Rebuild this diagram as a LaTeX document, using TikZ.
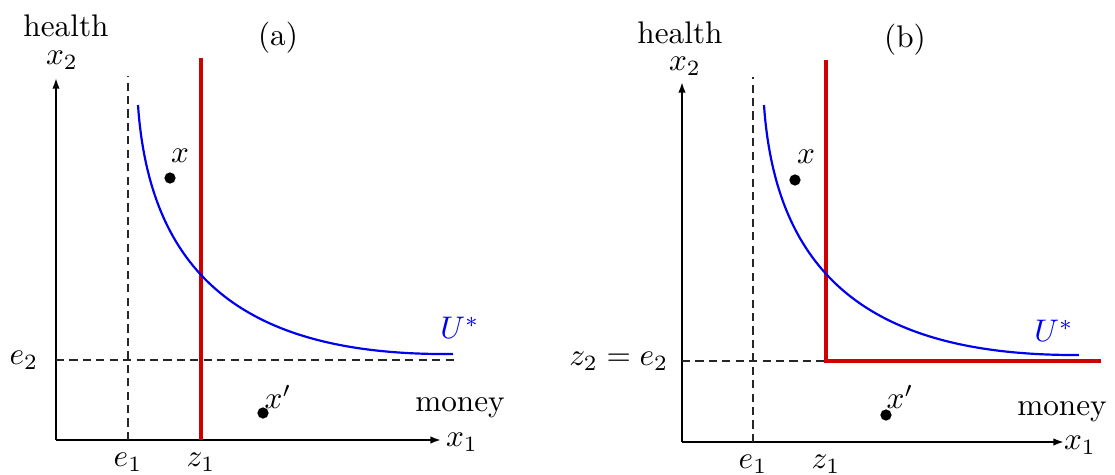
\documentclass[tikz,border=0pt]{standalone}
\usepackage{amsmath}
\usetikzlibrary{arrows.meta,positioning}
\definecolor{budgetred}{HTML}{D10000}
\definecolor{prefblue}{HTML}{0000F0}
\tikzset{
  ax/.style={line width=0.6pt,-{Latex[length=3.4pt,width=2.4pt]}},
  guide/.style={line width=0.5pt, black!85, dash pattern=on 2.6pt off 1.7pt},
  budget/.style={draw=budgetred, line width=1.1pt},
  indiff/.style={draw=prefblue, line width=0.7pt},
  dot/.style={circle, fill=black, inner sep=0pt, minimum size=3.6pt},
  lbl/.style={inner sep=1pt}
}

\begin{document}
\begin{tikzpicture}[x=0.32pt, y=-0.32pt, node distance=2pt]
\useasboundingbox (0,0) rectangle (1115,474);

% panel (a)
\coordinate (Oa) at (56,440);
\coordinate (Ya) at (56,78);
\coordinate (Xa) at (441,440);
\coordinate (e1a) at (128,440);
\coordinate (z1a) at (201,440);
\coordinate (e2a) at (56,360);
\draw[ax] (Oa) -- (Ya);
\draw[ax] (Oa) -- (Xa);
\draw[guide] (e1a) -- (128,76);
\draw[guide] (e2a) -- (454,360);
\draw[budget] (z1a) -- (201,58);
\draw[indiff] (138,105) .. controls (150,280) and (250,356) .. (453,354);
\node[lbl] (x2a) at (62,60) {$x_2$};
\node[lbl] at (66,26) {health};
\node[lbl] at (278,38) {(a)};
\node[lbl, prefblue] at (460,328) {$U^*$};
\node[lbl] at (460,408) {money};
\node[lbl] at (462,442) {$x_1$};
\node[lbl, below=3pt of e1a] {$e_1$};
\node[lbl, below=3pt of z1a] {$z_1$};
\node[lbl, left=4.5pt of e2a] {$e_2$};
\node[dot] (pa) at (170,178) {};
\node[lbl] at (180,156) {$x$};
\node[dot] (qa) at (263,413) {};
\node[lbl] at (278,397) {$x'$};

% panel (b)
\coordinate (Ob) at (682,442);
\coordinate (Yb) at (682,82);
\coordinate (Xb) at (1064,442);
\coordinate (e1b) at (753,442);
\coordinate (z1b) at (826,442);
\coordinate (kink) at (826,361);
\draw[ax] (Ob) -- (Yb);
\draw[ax] (Ob) -- (Xb);
\draw[guide] (e1b) -- (753,77);
\draw[guide] (682,361) -- (kink);
\draw[budget] (826,60) -- (kink) -- (1101,361);
\draw[indiff] (764,105) .. controls (776,280) and (876,356) .. (1079,355);
\node[lbl] (x2b) at (685,66) {$x_2$};
\node[lbl] at (680,33) {health};
\node[lbl] at (905,40) {(b)};
\node[lbl, prefblue] at (1054,331) {$U^*$};
\node[lbl] at (1062,412) {money};
\node[lbl] at (1080,445) {$x_1$};
\node[lbl, below=3pt of e1b] {$e_1$};
\node[lbl, below=3pt of z1b] {$z_1$};
\node[lbl, anchor=east] at (672,361) {$z_2 = e_2$};
\node[dot] (pb) at (795,180) {};
\node[lbl] at (806,157) {$x$};
\node[dot] (qb) at (886,415) {};
\node[lbl] at (900,397) {$x'$};
\end{tikzpicture}
\end{document}
